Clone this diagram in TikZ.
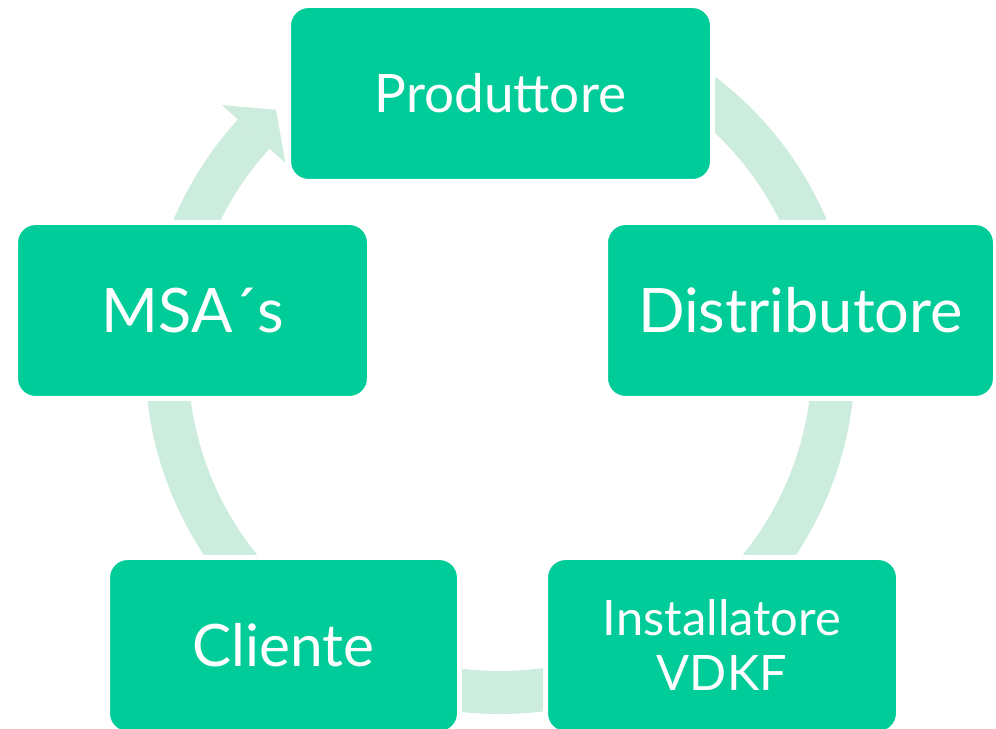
\documentclass[tikz,border=0pt]{standalone}
\usepackage{fontspec}
\setmainfont{Lato}
\usetikzlibrary{arrows.meta}

\definecolor{boxgreen}{RGB}{0,204,153}
\definecolor{ringgreen}{RGB}{204,236,222}

\begin{document}
\begin{tikzpicture}[
  stage/.style={draw=white, line width=0.1cm, fill=boxgreen, rounded corners=0.4cm,
    minimum height=3.52cm, inner sep=0pt, text=white, align=center},
  ring/.style={draw=ringgreen, line width=0.86cm,
    -{Triangle[width=1.72cm, length=0.66cm, line width=0pt]}}
]
\useasboundingbox (0,0) rectangle (19.92,14.58);
\clip (0,0) rectangle (19.92,14.58);

% ring
\coordinate (hub) at (10,7.4);
\draw[ring] ([shift={(95:6.67)}]hub) arc[start angle=95, end angle=-222.4, radius=6.67]
  -- ++(47.6:0.66);

% stages
\node[stage, minimum width=8.48cm, font=\fontsize{30.2}{34}\selectfont] (prod) at (10.01,12.71) {Produttore};
\node[stage, minimum width=7.8cm, font=\fontsize{34.9}{40}\selectfont] (dist) at (16.01,8.37) {Distributore};
\node[stage, minimum width=7.06cm, font=\fontsize{27.8}{31.3}\selectfont] (inst) at (14.44,1.67) {Installatore\\VDKF};
\node[stage, minimum width=7.04cm, font=\fontsize{33.3}{38}\selectfont] (cli) at (5.67,1.67) {Cliente};
\node[stage, minimum width=7.08cm, font=\fontsize{34.9}{40}\selectfont] (msa) at (3.85,8.37) {MSA´s};
\end{tikzpicture}
\end{document}
